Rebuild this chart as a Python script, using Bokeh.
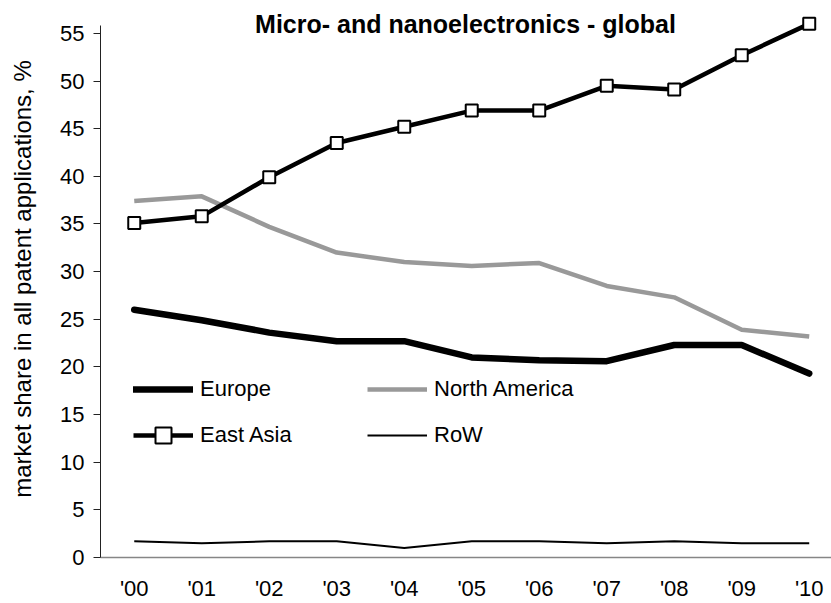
from bokeh.plotting import figure
from bokeh.models import Range1d, FixedTicker, Legend, LegendItem, Label
from bokeh.embed import file_html
from bokeh.resources import INLINE

# ---- data ----
years = ["'00", "'01", "'02", "'03", "'04", "'05", "'06", "'07", "'08", "'09", "'10"]
europe = [26.0, 24.9, 23.6, 22.7, 22.7, 21.0, 20.7, 20.6, 22.3, 22.3, 19.3]
north_america = [37.4, 37.9, 34.7, 32.0, 31.0, 30.6, 30.9, 28.5, 27.3, 23.9, 23.2]
east_asia = [35.1, 35.8, 39.9, 43.5, 45.2, 46.9, 46.9, 49.5, 49.1, 52.7, 56.0]
rest_of_world = [1.7, 1.5, 1.7, 1.7, 1.0, 1.7, 1.7, 1.5, 1.7, 1.5, 1.5]
y_ticks = [0, 5, 10, 15, 20, 25, 30, 35, 40, 45, 50, 55]

title_text = "Micro- and nanoelectronics - global"
y_label = "market share in all patent applications, %"

xs = list(range(len(years)))
FONT = "Liberation Sans"

p = figure(width=831, height=603, output_backend="svg", toolbar_location=None,
           x_range=Range1d(-0.5, 10.33), y_range=Range1d(0, 58.45),
           min_border_left=100, min_border_right=0, min_border_top=0,
           min_border_bottom=46)
p.outline_line_color = None
p.xgrid.visible = False
p.ygrid.visible = False
p.background_fill_color = "white"
p.border_fill_color = "white"

# axes
xa = p.xaxis[0]
xa.ticker = FixedTicker(ticks=xs)
xa.major_label_overrides = {i: lab for i, lab in enumerate(years)}
xa.major_tick_line_color = None
xa.minor_tick_line_color = None
xa.axis_line_color = "#868686"
xa.axis_line_width = 1.5
xa.major_label_standoff = 12
xa.major_label_text_font = FONT
xa.major_label_text_font_size = "22px"
xa.major_label_text_color = "black"

ya = p.yaxis[0]
ya.ticker = FixedTicker(ticks=y_ticks)
ya.bounds = (0, 55.8)
ya.minor_tick_line_color = None
ya.major_tick_out = 7
ya.major_tick_in = 0
ya.major_tick_line_color = "#222222"
ya.axis_line_color = "#222222"
ya.major_label_standoff = 9
ya.major_label_text_font = FONT
ya.major_label_text_font_size = "22px"
ya.major_label_text_color = "black"
ya.axis_label = y_label
ya.axis_label_text_font = FONT
ya.axis_label_text_font_size = "24px"
ya.axis_label_text_font_style = "normal"
ya.axis_label_text_color = "black"
ya.axis_label_standoff = 21

# series
r_row = p.line(xs, rest_of_world, line_color="black", line_width=2)
r_na = p.line(xs, north_america, line_color="#999999", line_width=4.5, line_join="round")
r_eu = p.line(xs, europe, line_color="black", line_width=6.5, line_join="round", line_cap="round")
r_ea = p.line(xs, east_asia, line_color="black", line_width=4.5, line_join="round")
r_ea_pts = p.scatter(xs, east_asia, marker="square", size=12, fill_color="white",
                     line_color="black", line_width=2)

legend = Legend(items=[LegendItem(label="Europe", renderers=[r_eu]),
                       LegendItem(label="East Asia", renderers=[r_ea, r_ea_pts]),
                       LegendItem(label="North America", renderers=[r_na]),
                       LegendItem(label="RoW", renderers=[r_row])],
                location=(33, 102), ncols=2,
                glyph_width=60, glyph_height=40, label_height=40,
                label_width=161, label_standoff=7, spacing=6,
                padding=0, margin=0, border_line_color=None,
                background_fill_alpha=0,
                label_text_font=FONT, label_text_font_size="22px",
                label_text_color="black")
p.add_layout(legend, "center")

title = Label(x=365, y=534, x_units="screen", y_units="screen", text=title_text,
              text_align="center", text_baseline="middle", text_font=FONT,
              text_font_size="25px", text_font_style="bold", text_color="black")
p.add_layout(title)

open("out.html", "w").write(file_html(p, INLINE))
